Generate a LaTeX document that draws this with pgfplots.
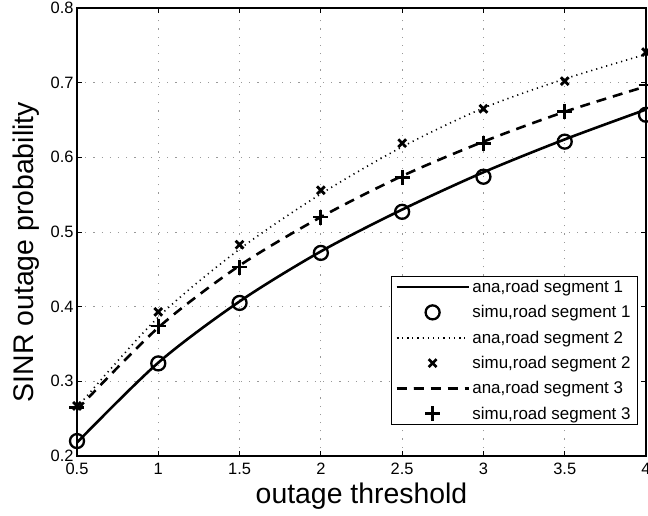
\documentclass[border=0pt]{standalone}
\usepackage{fontspec}
\setmainfont{Liberation Sans}
\usepackage{pgfplots}
\pgfplotsset{compat=1.18}
\begin{document}
\begin{tikzpicture}
\begin{axis}[
  at={(0,0)}, anchor=south west,
  scale only axis,
  width=569bp, height=448bp,
  xmin=0.5, xmax=4, ymin=0.2, ymax=0.8,
  xtick={0.5,1,1.5,2,2.5,3,3.5,4},
  ytick={0.2,0.3,0.4,0.5,0.6,0.7,0.8},
  yticklabel style={/pgf/number format/fixed,/pgf/number format/fixed zerofill,/pgf/number format/precision=1},
  xticklabel style={yshift=-4bp},
  /pgf/number format/assume math mode=true,
  ticklabel style={font=\fontsize{16.5}{19}\selectfont},
  tick align=inside,
  major tick length=5bp,
  tick style={black, line width=0.8bp},
  axis line style={line width=1.2bp},
  grid=major,
  grid style={gray!80, line width=0.8bp, dash pattern=on 1.2bp off 7bp},
  xlabel={outage threshold},
  ylabel={SINR outage probability},
  label style={font=\fontsize{28.5}{32}\selectfont},
  xlabel style={at={(axis description cs:0.5,-0.1071)}, anchor=base},
  ylabel style={at={(axis description cs:-0.0773,0.455)}, anchor=base},
  legend style={at={(0.985,0.07)}, anchor=south east,
    font=\fontsize{17}{20}\selectfont, draw=black, line width=0.8bp,
    inner xsep=4bp, inner ysep=1bp, row sep=6.6bp,
    nodes={inner sep=2.5bp}},
  legend cell align=left,
  legend image code/.code={\draw[mark repeat=2,mark phase=2] plot coordinates {(0bp,0bp) (36bp,0bp) (72bp,0bp)};},
]
% ana, road segment 1
\addplot[black, line width=2.6bp, smooth] coordinates {
 (0.5,0.218) (1,0.325) (1.5,0.407) (2,0.474) (2.5,0.530) (3,0.580) (3.5,0.624) (4,0.664)};
\addlegendentry{ana,road segment 1}
% simu, road segment 1
\addplot[black, only marks, mark=o, mark size=7bp, line width=2.3bp] coordinates {
 (0.5,0.220) (1,0.324) (1.5,0.405) (2,0.472) (2.5,0.527) (3,0.574) (3.5,0.621) (4,0.657)};
\addlegendentry{simu,road segment 1}
% ana, road segment 2
\addplot[black, line width=1.6bp, dash pattern=on 1.2bp off 4bp, smooth] coordinates {
 (0.5,0.265) (1,0.386) (1.5,0.477) (2,0.551) (2.5,0.614) (3,0.666) (3.5,0.705) (4,0.738)};
\addlegendentry{ana,road segment 2}
% simu, road segment 2
\addplot[black, only marks, mark=x, mark size=5.5bp, line width=2.8bp] coordinates {
 (0.5,0.267) (1,0.393) (1.5,0.483) (2,0.556) (2.5,0.619) (3,0.665) (3.5,0.702) (4,0.741)};
\addlegendentry{simu,road segment 2}
% ana, road segment 3
\addplot[black, line width=2.6bp, dash pattern=on 10bp off 7bp, smooth] coordinates {
 (0.5,0.262) (1,0.372) (1.5,0.455) (2,0.520) (2.5,0.575) (3,0.621) (3.5,0.661) (4,0.695)};
\addlegendentry{ana,road segment 3}
% simu, road segment 3
\addplot[black, only marks, mark=+, mark size=7.5bp, line width=2.8bp] coordinates {
 (0.5,0.265) (1,0.374) (1.5,0.453) (2,0.520) (2.5,0.573) (3,0.619) (3.5,0.661) (4,0.697)};
\addlegendentry{simu,road segment 3}
\end{axis}
\pgfresetboundingbox
\useasboundingbox (-77bp,-60bp) rectangle (571bp,456bp);
\end{tikzpicture}
\end{document}
